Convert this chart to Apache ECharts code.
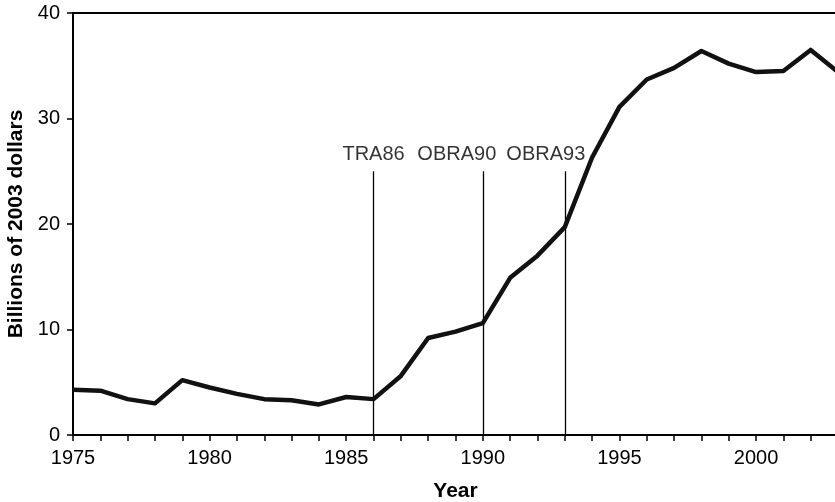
<!DOCTYPE html>
<html>
<head>
<meta charset="utf-8">
<script src="https://cdn.jsdelivr.net/npm/echarts@6/dist/echarts.min.js"></script>
<style>
  html, body { margin: 0; padding: 0; background: #fff; }
  #chart { width: 835px; height: 502px; }
</style>
</head>
<body>
<div id="chart"></div>
<script>
// years and values (billions of 2003 dollars)
var years = [1975, 1976, 1977, 1978, 1979, 1980, 1981, 1982, 1983, 1984,
             1985, 1986, 1987, 1988, 1989, 1990, 1991, 1992, 1993, 1994,
             1995, 1996, 1997, 1998, 1999, 2000, 2001, 2002, 2003];
var values = [4.3, 4.2, 3.4, 3.0, 5.2, 4.5, 3.9, 3.4, 3.3, 2.9,
              3.6, 3.4, 5.6, 9.2, 9.8, 10.6, 14.9, 17.0, 19.7, 26.3,
              31.1, 33.7, 34.8, 36.4, 35.2, 34.4, 34.5, 36.5, 34.4];

// law markers
var markerYears = [1986, 1990, 1993];
var markerNames = ["TRA86", "OBRA90", "OBRA93"];
var markerTop = 25;
var markerShift = [0, -26, -19];

var font = "'Liberation Sans', Arial, Helvetica, sans-serif";

var chart = echarts.init(document.getElementById("chart"));

var option = {
  animation: false,
  backgroundColor: "#fff",
  grid: {
    left: 73,
    top: 13,
    width: 765,
    height: 422,
    show: true,
    borderColor: "#000",
    borderWidth: 2,
    backgroundColor: "transparent",
    outerBoundsMode: "none"
  },
  xAxis: {
    type: "value",
    min: 1975,
    max: 2003,
    interval: 1,
    name: "Year",
    nameLocation: "middle",
    nameGap: 46,
    nameTextStyle: { fontFamily: font, fontSize: 21, fontWeight: "bold", color: "#000" },
    axisLine: { lineStyle: { color: "#000", width: 2 } },
    axisTick: { inside: false, length: 6, lineStyle: { color: "#000", width: 1.5 } },
    axisLabel: {
      margin: 13,
      fontFamily: font,
      fontSize: 20,
      color: "#000",
      formatter: function (v) { return v % 5 === 0 ? String(v) : ""; }
    },
    splitLine: { show: false }
  },
  yAxis: {
    type: "value",
    min: 0,
    max: 40,
    interval: 10,
    name: "Billions of 2003 dollars",
    nameLocation: "middle",
    nameGap: 43,
    nameTextStyle: { fontFamily: font, fontSize: 21, fontWeight: "bold", color: "#000" },
    axisLine: { show: true, lineStyle: { color: "#000", width: 2 } },
    axisTick: { show: true, inside: false, length: 6, lineStyle: { color: "#000", width: 1.5 } },
    axisLabel: { margin: 13, fontFamily: font, fontSize: 20, color: "#000" },
    splitLine: { show: false }
  },
  series: [
    {
      type: "line",
      data: years.map(function (y, i) { return [y, values[i]]; }),
      showSymbol: false,
      symbol: "none",
      lineStyle: { color: "#111", width: 4.5, join: "round" },
      z: 5,
      markLine: {
        silent: true,
        symbol: ["none", "none"],
        label: { show: false },
        lineStyle: { color: "#000", width: 1.3, type: "solid" },
        data: markerYears.map(function (y) {
          return [{ coord: [y, 0] }, { coord: [y, markerTop] }];
        })
      }
    },
    {
      type: "scatter",
      symbolSize: 0,
      silent: true,
      data: markerYears.map(function (y, i) {
        return {
          value: [y, markerTop],
          label: {
            show: true,
            position: "top",
            distance: 7,
            offset: [markerShift[i], 0],
            formatter: markerNames[i],
            fontFamily: font,
            fontSize: 20,
            color: "#000"
          }
        };
      })
    }
  ]
};

chart.setOption(option);
</script>
</body>
</html>
